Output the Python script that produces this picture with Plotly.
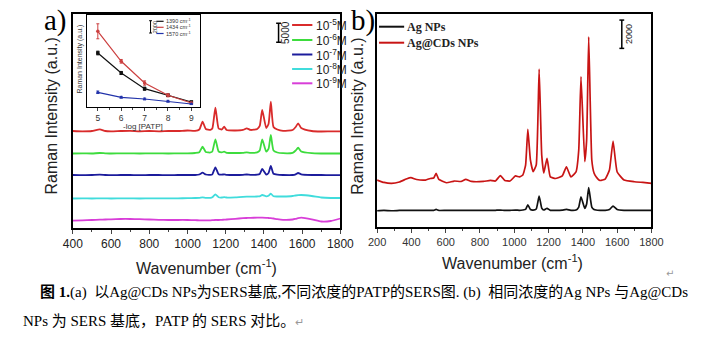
import plotly.graph_objects as go

# ---------------- data ----------------
# Panel (a): SERS spectra of PATP at different concentrations (offset, a.u.)
wn_a = [400, 450, 500, 541, 570, 600, 650, 700, 750, 800, 850, 900, 950, 1000, 1040, 1062,
        1079, 1096, 1120, 1130, 1146, 1163, 1180, 1192, 1205, 1250, 1290, 1310, 1330, 1365,
        1378, 1391, 1412, 1424, 1436, 1450, 1470, 1500, 1550, 1566, 1579, 1595, 1650, 1700,
        1750, 1800]
conc_names = ["10<sup>-5</sup>M", "10<sup>-6</sup>M", "10<sup>-7</sup>M", "10<sup>-8</sup>M", "10<sup>-9</sup>M"]
red_a = [25430, 25350, 25430, 25880, 25430, 25350, 25430, 25480, 25350, 25430, 25350, 25430,
         25430, 25560, 25480, 25830, 27880, 25960, 25750, 26090, 31560, 26090, 25830, 26560,
         25700, 25560, 25700, 26140, 25700, 25960, 26750, 30960, 26220, 27270, 33140, 26480,
         25830, 25480, 25700, 26480, 27460, 26220, 25430, 25300, 25350, 25350]
green_a = [19510, 19570, 19510, 19650, 19570, 19510, 19570, 19570, 19510, 19570, 19570, 19510,
           19570, 19570, 19650, 19830, 21300, 19910, 19780, 20040, 23250, 20040, 19830, 19990,
           19700, 19650, 19700, 19830, 19700, 19830, 20300, 23250, 19990, 20700, 24380, 20300,
           19780, 19590, 19700, 20300, 21040, 20040, 19590, 19510, 19510, 19510]
blue_a = [13860, 13810, 13860, 13940, 13860, 13810, 13860, 13860, 13810, 13860, 13860, 13810,
          13860, 13860, 13860, 13990, 14470, 13990, 13910, 14040, 15890, 14040, 13940, 14040,
          13910, 13860, 13910, 13990, 13910, 13940, 14120, 15440, 13990, 14390, 16230, 14180,
          13940, 13860, 13860, 14040, 14390, 14040, 13860, 13860, 13810, 13810]
cyan_a = [7680, 7730, 7680, 7730, 7730, 7680, 7730, 7730, 7680, 7730, 7730, 7730, 7730, 7760,
          7810, 7860, 8000, 7860, 7860, 8000, 8780, 8000, 7940, 8020, 7940, 8000, 8130, 8150,
          8150, 8210, 8260, 8600, 8260, 8390, 8940, 8260, 8210, 8210, 8340, 8470, 8550, 8600,
          8340, 7940, 7810, 7810]
magenta_a = [1840, 1950, 2030, 2100, 2160, 2210, 2290, 2290, 2240, 2160, 2080, 2030, 2030, 2030,
             1970, 1950, 1950, 1950, 1950, 1970, 2030, 2030, 2080, 2100, 2160, 2340, 2500, 2550,
             2600, 2630, 2630, 2630, 2600, 2550, 2500, 2420, 2240, 2080, 2160, 2340, 2500, 2630,
             2210, 1630, 1760, 2420]

# Inset: peak intensity vs -log[PATP]
log_conc = [5, 6, 7, 8, 9]
inset_names = ["1390 cm<sup>-1</sup>", "1434 cm<sup>-1</sup>", "1570 cm<sup>-1</sup>"]
i1390 = [8780, 5530, 2980, 1900, 810]
i1434 = [12310, 7430, 3900, 1900, 650]
i1570 = [2390, 1580, 1300, 930, 490]
e1390 = [300, 250, 250, 200, 150]
e1434 = [1220, 300, 350, 250, 150]
e1570 = [200, 150, 150, 150, 100]

# Panel (b): Ag NPs vs Ag@CDs NPs
wn_b = [200, 240, 284, 330, 370, 397, 430, 482, 510, 530, 544, 560, 604, 650, 690, 717, 750, 820,
        860, 890, 919, 945, 975, 1007, 1030, 1050, 1066, 1079, 1094, 1110, 1128, 1145, 1160, 1172,
        1191, 1210, 1240, 1280, 1304, 1330, 1360, 1376, 1389, 1411, 1422, 1434, 1452, 1465, 1477,
        1500, 1530, 1555, 1576, 1600, 1640, 1700, 1750, 1800]
b_names = ["Ag NPs", "Ag@CDs NPs"]
agcd_b = [3320, 3150, 3080, 3180, 3390, 3490, 3360, 3320, 3430, 3460, 3800, 3360, 3130, 3250, 3220,
          3370, 3220, 3220, 3290, 3250, 3640, 3290, 3250, 3610, 3540, 3680, 4380, 6910, 4740, 3910,
          4380, 11170, 5090, 3820, 4860, 3540, 3430, 3610, 4260, 3540, 3890, 5440, 10630, 4620, 6150,
          13450, 4740, 3820, 3560, 3290, 3390, 4030, 6080, 3890, 3320, 3200, 3150, 3090]
ag_b = [1150, 1170, 1150, 1170, 1180, 1170, 1180, 1170, 1180, 1170, 1240, 1170, 1180, 1170, 1180,
        1180, 1170, 1180, 1170, 1180, 1200, 1170, 1180, 1200, 1180, 1200, 1240, 1560, 1240, 1200,
        1270, 2190, 1340, 1200, 1320, 1180, 1180, 1200, 1240, 1180, 1200, 1410, 2140, 1320, 1630,
        2780, 1410, 1240, 1200, 1180, 1180, 1240, 1480, 1240, 1180, 1170, 1170, 1170]

ticks_a = [400, 600, 800, 1000, 1200, 1400, 1600, 1800]
ticks_b = [200, 400, 600, 800, 1000, 1200, 1400, 1600, 1800]
scale_a = 5000
scale_b = 2000
scale_in = 2000

# ---------------- layout helpers ----------------
W, H = 707, 339
def px(x):
    return x / W
def py(y):
    return 1 - y / H

cols_a = ["#d92b2b", "#3ddc3d", "#1c1c9c", "#40dcdc", "#d83ed8"]
col_in = ["#111111", "#cc4040", "#2233aa"]
cols_b = ["#111111", "#c81414"]

fig = go.Figure()

for name, ys, c in zip(conc_names, [red_a, green_a, blue_a, cyan_a, magenta_a], cols_a):
    fig.add_trace(go.Scatter(x=wn_a, y=ys, mode="lines", name=name, showlegend=False,
                             line=dict(color=c, width=1.8, shape="spline", smoothing=0.5),
                             xaxis="x", yaxis="y"))

for name, ys, es, c, sym in zip(inset_names, [i1390, i1434, i1570], [e1390, e1434, e1570], col_in,
                                ["square", "circle", "triangle-up"]):
    fig.add_trace(go.Scatter(x=log_conc, y=ys, mode="lines+markers", name=name, showlegend=False,
                             line=dict(color=c, width=1.2), marker=dict(size=3.5, color=c, symbol=sym),
                             error_y=dict(type="data", array=es, color=c, thickness=1, width=1.5),
                             xaxis="x3", yaxis="y3"))

for name, ys, c in zip(b_names, [ag_b, agcd_b], cols_b):
    fig.add_trace(go.Scatter(x=wn_b, y=ys, mode="lines", name=name, showlegend=False,
                             line=dict(color=c, width=1.7, shape="spline", smoothing=0.4),
                             xaxis="x2", yaxis="y2"))

axis_common = dict(showgrid=False, zeroline=False, showline=True, mirror=True, linecolor="black")
tickfont_a = dict(family="Arial, Liberation Sans", size=12, color="#222")

fig.update_layout(
    width=W, height=H, margin=dict(l=0, r=0, t=0, b=0),
    paper_bgcolor="white", plot_bgcolor="white", showlegend=False,
    xaxis=dict(domain=[px(65), px(342)], range=[400, 1800], anchor="y", tickvals=ticks_a,
               ticks="outside", ticklen=4, tickwidth=1.2, linewidth=1.6, tickfont=tickfont_a,
               minor=dict(dtick=100, ticks="outside", ticklen=2.5, tickwidth=1), **axis_common),
    yaxis=dict(domain=[py(227.7), py(14)], range=[0, 56200], anchor="x", showticklabels=False,
               ticks="", linewidth=1.6, **axis_common),
    xaxis2=dict(domain=[px(380), px(664)], range=[200, 1800], anchor="y2", tickvals=ticks_b,
                ticks="outside", ticklen=4, tickwidth=1.2, linewidth=1.8,
                tickfont=dict(family="Arial, Liberation Sans", size=11, color="#333"),
                minor=dict(dtick=100, ticks="outside", ticklen=2.5, tickwidth=1), **axis_common),
    yaxis2=dict(domain=[py(227), py(14)], range=[0, 15060], anchor="x2", showticklabels=False,
                ticks="", linewidth=1.8, **axis_common),
    xaxis3=dict(domain=[px(79.3), px(196.7)], range=[4.52, 9.37], anchor="y3", tickvals=log_conc,
                ticks="outside", ticklen=3, tickwidth=1, linewidth=1,
                tickfont=dict(family="Arial, Liberation Sans", size=8.5, color="#333"),
                minor=dict(dtick=0.5, ticks="outside", ticklen=1.5, tickwidth=0.8), **axis_common),
    yaxis3=dict(domain=[py(107), py(15.3)], range=[0, 14910], anchor="x3", showticklabels=False,
                ticks="", linewidth=1, **axis_common),
)

shapes = []
ann = []

# legend (a)
leg_a_y = [25, 40, 54.5, 69, 83.3]
for name, c, yy in zip(conc_names, cols_a, leg_a_y):
    shapes.append(dict(type="line", xref="paper", yref="paper", x0=px(292), x1=px(313),
                       y0=py(yy), y1=py(yy), line=dict(color=c, width=2)))
    ann.append(dict(text=name, xref="paper", yref="paper", x=px(314.5), y=py(yy), xanchor="left",
                    yanchor="middle", showarrow=False,
                    font=dict(family="Arial, Liberation Sans", size=12, color="#222")))

# scale bars
def scale_bar(xpix, yref, ybot, length, cap, lw, label, tx, fs):
    shapes.append(dict(type="line", xref="paper", yref=yref, x0=px(xpix), x1=px(xpix),
                       y0=ybot, y1=ybot + length, line=dict(color="black", width=lw)))
    for yv in (ybot, ybot + length):
        shapes.append(dict(type="line", xref="paper", yref=yref, x0=px(xpix - cap), x1=px(xpix + cap),
                           y0=yv, y1=yv, line=dict(color="black", width=lw)))
    ann.append(dict(text=label, xref="paper", yref=yref, x=px(tx), y=ybot + length / 2,
                    textangle=-90, showarrow=False, xanchor="center", yanchor="middle",
                    font=dict(family="Arial, Liberation Sans", size=fs, color="#222")))

scale_bar(278, "y", 48800, scale_a, 2.5, 1.5, str(scale_a), 285, 10)
scale_bar(633.3, "y2", 12630, scale_b, 2.5, 1.5, str(scale_b), 640.5, 9)
scale_bar(145.5, "y3", 12030, scale_in, 1.5, 1, str(scale_in), 149.5, 5.5)

# inset legend
leg_in_y = [21.3, 27.3, 33.5]
for name, c, yy in zip(inset_names, col_in, leg_in_y):
    shapes.append(dict(type="line", xref="paper", yref="paper", x0=px(151.5), x1=px(159),
                       y0=py(yy), y1=py(yy), line=dict(color=c, width=1.2)))
    ann.append(dict(text=name, xref="paper", yref="paper", x=px(159.5), y=py(yy), xanchor="left",
                    yanchor="middle", showarrow=False,
                    font=dict(family="Arial, Liberation Sans", size=5.5, color="#333")))

# legend (b)
leg_b_y = [26.7, 42.7]
for name, c, yy in zip(b_names, cols_b, leg_b_y):
    shapes.append(dict(type="line", xref="paper", yref="paper", x0=px(382), x1=px(408),
                       y0=py(yy), y1=py(yy), line=dict(color=c, width=2)))
    ann.append(dict(text="<b>" + name + "</b>", xref="paper", yref="paper", x=px(408.5), y=py(yy),
                    xanchor="left", yanchor="middle", showarrow=False,
                    font=dict(family="Liberation Serif, Times New Roman", size=12, color="#222")))

# panel labels
ann.append(dict(text="a)", xref="paper", yref="paper", x=px(47.5), y=py(21), showarrow=False,
                xanchor="center", yanchor="middle",
                font=dict(family="Liberation Serif, Times New Roman", size=29, color="black")))
ann.append(dict(text="b)", xref="paper", yref="paper", x=px(365), y=py(21), showarrow=False,
                xanchor="center", yanchor="middle",
                font=dict(family="Liberation Serif, Times New Roman", size=29, color="black")))

# axis titles
title_font = dict(family="Arial, Liberation Sans", size=16, color="#222")
ann.append(dict(text="Wavenumber (cm<sup>-1</sup>)", xref="paper", yref="paper", x=px(203), y=py(267),
                showarrow=False, xanchor="center", yanchor="middle", font=title_font))
ann.append(dict(text="Wavenumber (cm<sup>-1</sup>)", xref="paper", yref="paper", x=px(520), y=py(262),
                showarrow=False, xanchor="center", yanchor="middle", font=title_font))
ann.append(dict(text="Raman Intensity (a.u.)", xref="paper", yref="paper", x=px(43), y=py(116),
                textangle=-90, showarrow=False, xanchor="center", yanchor="middle", font=title_font))
ann.append(dict(text="Raman Intensity (a.u.)", xref="paper", yref="paper", x=px(360), y=py(116),
                textangle=-90, showarrow=False, xanchor="center", yanchor="middle", font=title_font))

# inset titles
ann.append(dict(text="Raman Intensity (a.u.)", xref="paper", yref="paper", x=px(72), y=py(59),
                textangle=-90, showarrow=False, xanchor="center", yanchor="middle",
                font=dict(family="Arial, Liberation Sans", size=7, color="#333")))
ann.append(dict(text="-log [PATP]", xref="paper", yref="paper", x=px(138), y=py(126),
                showarrow=False, xanchor="center", yanchor="middle",
                font=dict(family="Arial, Liberation Sans", size=8, color="#333")))

# caption
cap_font = dict(family="Liberation Serif, Times New Roman, Noto Sans CJK SC", size=15, color="black")
ann.append(dict(text="<b>图 1.</b>(a)  以Ag@CDs NPs为SERS基底,不同浓度的PATP的SERS图. (b)  相同浓度的Ag NPs 与Ag@CDs",
                xref="paper", yref="paper", x=px(29), y=py(292), showarrow=False,
                xanchor="left", yanchor="middle", font=cap_font))
ann.append(dict(text="NPs 为 SERS 基底，PATP 的 SERS 对比。<span style='color:#999;font-size:11px'>↵</span>",
                xref="paper", yref="paper", x=px(11), y=py(321), showarrow=False,
                xanchor="left", yanchor="middle", font=cap_font))
ann.append(dict(text="↵", xref="paper", yref="paper", x=px(683), y=py(273), showarrow=False,
                xanchor="center", yanchor="middle",
                font=dict(family="DejaVu Sans", size=10, color="#999")))

fig.update_layout(shapes=shapes, annotations=ann)
fig.write_html("out.html")
